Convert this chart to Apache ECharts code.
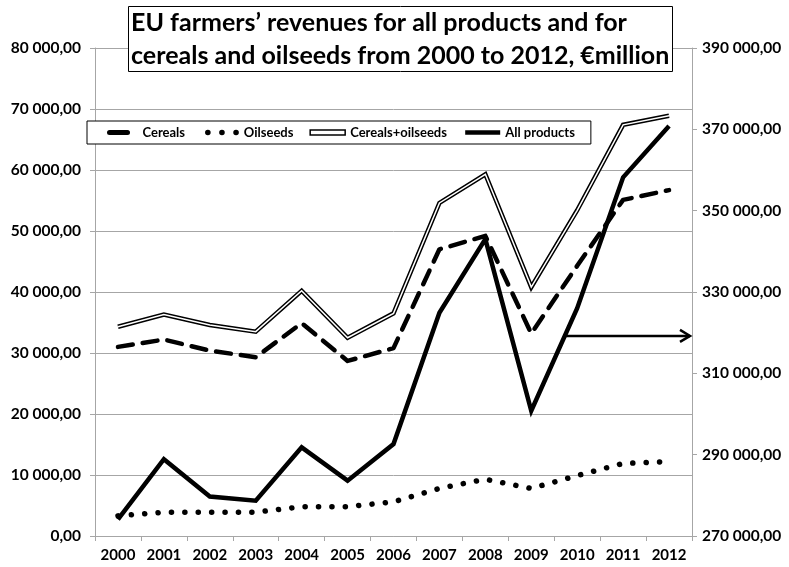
<!DOCTYPE html>
<html>
<head>
<meta charset="utf-8">
<script src="https://cdn.jsdelivr.net/npm/echarts@6/dist/echarts.min.js"></script>
<style>
  html, body { margin: 0; padding: 0; background: #fff; }
  #chart { width: 789px; height: 567px; }
</style>
</head>
<body>
<div id="chart"></div>
<script>
// Years on the category axis
const years = ['2000', '2001', '2002', '2003', '2004', '2005', '2006',
               '2007', '2008', '2009', '2010', '2011', '2012'];

// Revenues, € million (left axis)
const cereals   = [31000, 32200, 30400, 29300, 34900, 28700, 30800, 47000, 49200, 33200, 44300, 55100, 56700];
const oilseeds  = [3300, 3900, 3900, 3900, 4800, 4800, 5600, 7800, 9300, 7800, 9900, 11900, 12200];
const combined  = [34300, 36300, 34600, 33500, 40200, 32500, 36500, 54600, 59300, 40800, 53400, 67400, 68900];

// Revenues for all products, € million (right axis)
const allProducts = [274100, 288900, 279700, 278700, 291800, 283600, 292600, 324900, 343000, 300800, 326000, 358200, 370800];

// Axis ranges
const leftMin = 0, leftMax = 80000, leftStep = 10000;
const rightMin = 270000, rightMax = 390000, rightStep = 20000;

// Level (right axis) at which the pointer to the right-hand scale is drawn
const pointerLevel = 319200;

const FONT = 'Lato';

function fmt(v) {
  const s = Math.round(v).toString().replace(/\B(?=(\d{3})+(?!\d))/g, ' ');
  return s + ',00';
}

const chart = echarts.init(document.getElementById('chart'), null, { renderer: 'canvas' });

const axisGray = '#a6a6a6';
const labelStyle = { fontFamily: FONT, fontSize: 15.5, fontWeight: 'bold', color: '#000' };
// legend markers show only the line pattern, no point symbol
const noMarker = { color: 'rgba(0,0,0,0)', borderColor: 'rgba(0,0,0,0)', borderWidth: 0 };

const option = {
  backgroundColor: '#fff',
  animation: false,
  title: {
    text: 'EU farmers’ revenues for all products and for\ncereals and oilseeds from 2000 to 2012, €million',
    left: 128,
    top: 6,
    padding: [0, 3, 0, 3],
    borderColor: '#000',
    borderWidth: 1,
    backgroundColor: '#fff',
    textStyle: {
      fontFamily: FONT,
      fontSize: 25,
      fontWeight: 'bold',
      color: '#000',
      lineHeight: 33,
      align: 'center'
    },
    z: 10
  },
  legend: {
    left: 87,
    top: 121,
    padding: [5, 16, 5, 13],
    borderColor: '#000',
    borderWidth: 1,
    backgroundColor: '#fff',
    itemWidth: 35,
    itemHeight: 14,
    itemGap: 16,
    selectedMode: false,
    textStyle: { fontFamily: FONT, fontSize: 13, fontWeight: 'bold', color: '#000' },
    data: [
      { name: 'Cereals', itemStyle: noMarker,
        lineStyle: { width: 5, type: [18, 60], dashOffset: -7, cap: 'round', color: '#000' } },
      { name: 'Oilseeds', itemStyle: noMarker,
        lineStyle: { width: 5.5, type: [0.1, 14], dashOffset: -4, cap: 'round', color: '#000' } },
      { name: 'Cereals+oilseeds', icon: 'path://M0,0L35,0L35,5L0,5Z',
        itemStyle: { color: '#fff', borderColor: '#000', borderWidth: 1.5 } },
      { name: 'All products', itemStyle: noMarker,
        lineStyle: { width: 4.5, type: 'solid', color: '#000' } }
    ],
    z: 10
  },
  grid: { left: 95, right: 97, top: 48, bottom: 31, containLabel: false },
  xAxis: {
    type: 'category',
    data: years,
    boundaryGap: true,
    axisLine: { lineStyle: { color: axisGray, width: 1 } },
    axisTick: { show: true, alignWithLabel: false, interval: 0, length: 5, lineStyle: { color: axisGray } },
    axisLabel: Object.assign({ margin: 12, interval: 0 }, labelStyle, { fontSize: 15 }),
    splitLine: { show: false }
  },
  yAxis: [
    {
      type: 'value',
      min: leftMin, max: leftMax, interval: leftStep,
      position: 'left',
      axisLine: { show: true, lineStyle: { color: axisGray } },
      axisTick: { show: true, length: 5, lineStyle: { color: axisGray } },
      axisLabel: Object.assign({ margin: 14, formatter: fmt }, labelStyle),
      splitLine: { show: true, lineStyle: { color: axisGray, width: 1 } }
    },
    {
      type: 'value',
      min: rightMin, max: rightMax, interval: rightStep,
      position: 'right',
      axisLine: { show: true, lineStyle: { color: axisGray } },
      axisTick: { show: true, length: 5, lineStyle: { color: axisGray } },
      axisLabel: Object.assign({ margin: 10, formatter: fmt }, labelStyle),
      splitLine: { show: false }
    }
  ],
  series: [
    {
      name: 'Cereals',
      type: 'line',
      data: cereals,
      symbol: 'none',
      lineStyle: { color: '#000', width: 4.5, type: [15, 10], cap: 'round', join: 'round' },
      itemStyle: { color: '#000' },
      z: 3
    },
    {
      name: 'Oilseeds',
      type: 'line',
      data: oilseeds,
      symbol: 'none',
      lineStyle: { color: '#000', width: 5.5, type: [0.1, 13.3], cap: 'round', join: 'round' },
      itemStyle: { color: '#000' },
      z: 3
    },
    {
      name: 'Cereals+oilseeds',
      type: 'line',
      data: combined,
      symbol: 'none',
      lineStyle: { color: '#000', width: 4.5, join: 'miter' },
      itemStyle: { color: '#fff', borderColor: '#000' },
      z: 3
    },
    {
      // inner white stroke giving the double-line look
      name: 'combined-core',
      type: 'line',
      data: combined,
      symbol: 'none',
      lineStyle: { color: '#fff', width: 1.5, join: 'miter' },
      silent: true,
      z: 4
    },
    {
      name: 'All products',
      type: 'line',
      data: allProducts,
      yAxisIndex: 1,
      symbol: 'none',
      lineStyle: { color: '#000', width: 4.5, join: 'miter' },
      itemStyle: { color: '#000' },
      z: 5
    }
  ]
};

chart.setOption(option);

// Pointer from the "All products" line to the right-hand axis
function drawPointer() {
  let i = 0;
  for (let k = 0; k < allProducts.length - 1; k++) {
    const a = allProducts[k], b = allProducts[k + 1];
    if (a < pointerLevel && b >= pointerLevel && k >= 8) { i = k; break; }
  }
  const t = (pointerLevel - allProducts[i]) / (allProducts[i + 1] - allProducts[i]);
  const p0 = chart.convertToPixel({ xAxisIndex: 0, yAxisIndex: 1 }, [years[i], pointerLevel]);
  const p1 = chart.convertToPixel({ xAxisIndex: 0, yAxisIndex: 1 }, [years[i + 1], pointerLevel]);
  const x0 = p0[0] + t * (p1[0] - p0[0]);
  const y = p0[1];
  const gridRect = chart.getModel().getComponent('grid').coordinateSystem.getRect();
  const x1 = gridRect.x + gridRect.width - 2;
  chart.setOption({
    graphic: [
      {
        type: 'line', z: 20,
        shape: { x1: x0, y1: y, x2: x1, y2: y },
        style: { stroke: '#000', lineWidth: 2.5 }
      },
      {
        type: 'polyline', z: 20,
        shape: { points: [[x1 - 10, y - 6], [x1, y], [x1 - 10, y + 6]] },
        style: { stroke: '#000', lineWidth: 2.5, fill: null, lineJoin: 'miter' }
      }
    ]
  });
}
drawPointer();
</script>
</body>
</html>
